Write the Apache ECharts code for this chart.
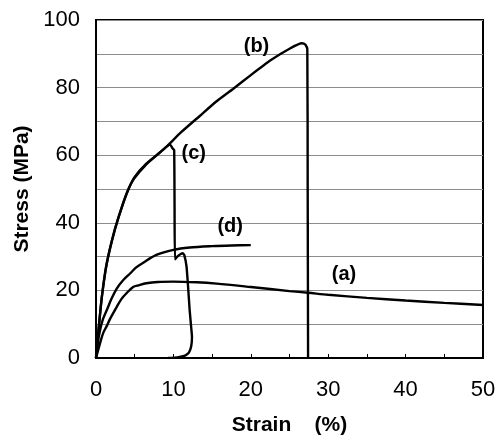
<!DOCTYPE html>
<html><head><meta charset="utf-8">
<script src="https://cdn.jsdelivr.net/npm/echarts@6/dist/echarts.min.js"></script>
<style>html,body{margin:0;padding:0;background:#fff}#c{width:500px;height:435px}</style>
</head><body><div id="c"></div>
<script>
const curveA = [[0,0],[0.3,2.5],[0.6,5],[0.95,7.5],[1.4,9.5],[1.8,11.5],[2.7,15.2],[3.3,17.5],[4.0,19.3],[4.8,21],[5.5,21.5],[6.5,22.1],[8,22.5],[10,22.6],[13,22.4],[15.6,22],[20,21],[25,19.8],[27.4,19.3],[30,18.7],[35,17.8],[40,17],[45,16.3],[50,15.7]];
const curveB = [[0,0],[0.4,10],[0.75,18],[1.4,28],[2.45,38],[3.5,45.8],[4.3,50.5],[5,53.6],[6.5,57.5],[8,60.3],[9.1,62.5],[11,66.8],[13.4,71.6],[15.5,75.8],[17.7,79.6],[20,83.7],[22.5,88],[25,91.5],[26.6,93.1],[27.05,92.7],[27.3,91.5],[27.35,50],[27.4,0]];
const curveC = [[0,0],[0.35,9],[0.7,17],[1.3,27],[2.3,37],[3.4,45],[4.2,50],[4.9,53],[6.5,57.3],[8.0,60.3],[9.0,62.3],[9.56,63.2],[9.9,62],[10.1,61.5],[10.15,45],[10.2,29.2],[10.6,30.2],[11.2,31],[11.4,30.5],[11.7,27],[11.9,21],[12.1,14.2],[12.3,9],[12.4,6.3],[12.3,3.5],[12.0,1.6],[11.5,0.7],[10.5,0.2],[9.3,0]];
const curveD = [[0,0],[0.2,4],[0.5,8],[0.9,11.5],[1.4,14.2],[2.0,17.5],[2.7,20.6],[3.5,23],[4.4,25],[5.2,26.8],[6.1,28.2],[7.8,30.5],[10,32],[12.1,32.7],[15,33.1],[17.5,33.3],[20,33.4]];
const curveNames = ['(a)','(b)','(c)','(d)'];
const labelPos = [[32.1,24.6],[20.8,92.1],[12.7,60.5],[17.4,38.8]];
const yTickLabels = [0,20,40,60,80,100];

const chart = echarts.init(document.getElementById('c'));
const lineStyle = {color:'#000', width:2.4};
const curves = [curveA, curveB, curveC, curveD];
const smoothVals = [0.3, 0.15, 0.12, 0.3];
const series = curves.map((d,i)=>({
  type:'line', data:d, showSymbol:false, symbol:'none', lineStyle:lineStyle, z:3, animation:false,
  smooth:smoothVals[i]
}));
series.push({
  type:'scatter', symbolSize:1, itemStyle:{opacity:0}, animation:false, z:4, silent:true,
  data: labelPos.map((p,i)=>({value:p, name:curveNames[i]})),
  label:{show:true, position:[0,0], align:'center', verticalAlign:'middle', formatter:p=>p.name, color:'#000', opacity:1, textBorderWidth:0, fontFamily:'Liberation Sans, Arial', fontWeight:'bold', fontSize:20}
});
chart.setOption({
  animation:false,
  grid:{left:96, top:20, right:17, bottom:77, outerBoundsMode:'none', containLabel:false, show:true, borderColor:'#000', borderWidth:2, backgroundColor:'transparent'},
  xAxis:{type:'value', min:0, max:50, interval:10,
    name:'Strain    (%)', nameLocation:'middle', nameGap:57,
    nameTextStyle:{fontFamily:'Liberation Sans, Arial', fontWeight:'bold', fontSize:21, color:'#000'},
    axisLine:{show:true, lineStyle:{color:'#000', width:2}},
    axisTick:{show:true, inside:true, length:4, lineStyle:{color:'#000', width:1}},
    minorTick:{show:true, splitNumber:2, length:4, lineStyle:{color:'#000', width:1}},
    splitLine:{show:false},
    axisLabel:{fontFamily:'Liberation Sans, Arial', fontSize:22, color:'#000', margin:21}
  },
  yAxis:{type:'value', min:0, max:100, interval:10,
    name:'Stress (MPa)', nameLocation:'middle', nameGap:63,
    nameTextStyle:{fontFamily:'Liberation Sans, Arial', fontWeight:'bold', fontSize:21, color:'#000'},
    axisLine:{show:true, lineStyle:{color:'#000', width:2}},
    axisTick:{show:false},
    splitLine:{show:true, lineStyle:{color:'#8c8c8c', width:1}},
    axisLabel:{fontFamily:'Liberation Sans, Arial', fontSize:22, color:'#000', margin:16,
      formatter:v=> yTickLabels.includes(v) ? String(v) : ''}
  },
  series:series
});
</script></body></html>
